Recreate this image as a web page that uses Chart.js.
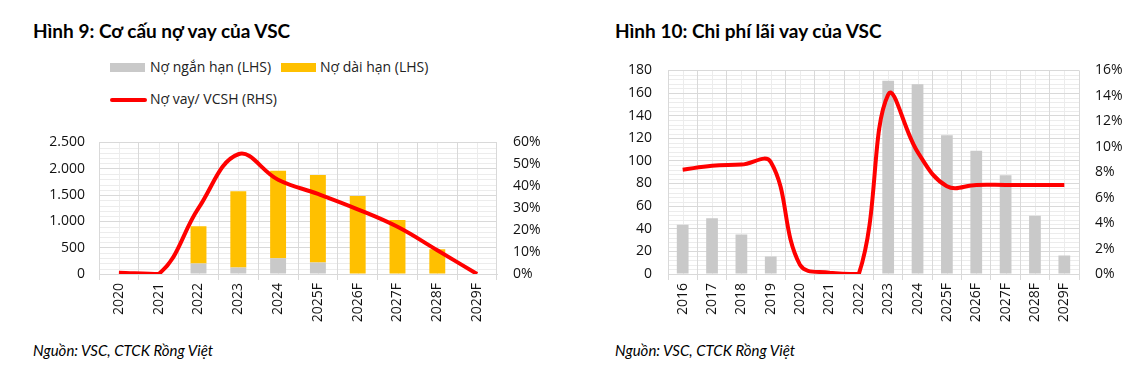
<!DOCTYPE html>
<html>
<head>
<meta charset="utf-8">
<script src="https://cdn.jsdelivr.net/npm/chart.js@4/dist/chart.umd.min.js"></script>
<style>
  body { margin: 0; width: 1140px; height: 376px; background: #fff; position: relative; overflow: hidden; font-family: 'Open Sans', sans-serif; }
  .title { position: absolute; font-family: Lato, sans-serif; font-weight: 700; font-size: 19px; color: #000; line-height: 22px; }
  .source { position: absolute; font-family: Lato, sans-serif; font-style: italic; font-size: 15px; color: #000; }
  .box { position: absolute; }
  .leg { position: absolute; font-size: 14px; color: #222; line-height: 18px; }
  .sw { position: absolute; }
</style>
</head>
<body>
<div class="title" style="left:33px; top:20px;">Hình 9: Cơ cấu nợ vay của VSC</div>
<div class="title" style="left:615px; top:20px;">Hình 10: Chi phí lãi vay của VSC</div>

<div class="sw" style="left:110px; top:63px; width:35px; height:9px; background:#c9c9c9;"></div>
<div class="leg" style="left:150px; top:58px;">Nợ ngắn hạn (LHS)</div>
<div class="sw" style="left:281px; top:63px; width:35px; height:9px; background:#ffc000;"></div>
<div class="leg" style="left:320px; top:58px;">Nợ dài hạn (LHS)</div>
<div class="sw" style="left:110px; top:98px; width:37px; height:4px; background:#ff0000; border-radius:2px;"></div>
<div class="leg" style="left:150px; top:90px;">Nợ vay/ VCSH (RHS)</div>

<div class="box" style="left:0px; top:118px; width:560px; height:212px;"><canvas id="c9"></canvas></div>
<div class="box" style="left:580px; top:46px; width:560px; height:284px;"><canvas id="c10"></canvas></div>

<div class="source" style="left:33px; top:341px;">Nguồn: VSC, CTCK Rồng Việt</div>
<div class="source" style="left:615px; top:341px;">Nguồn: VSC, CTCK Rồng Việt</div>

<script>
// Hình 9
const years9 = ['2020', '2021', '2022', '2023', '2024', '2025F', '2026F', '2027F', '2028F', '2029F'];
const shortDebt = [0, 0, 200, 125, 300, 220, 0, 0, 0, 0];
const longDebt = [0, 0, 705, 1445, 1660, 1660, 1480, 1025, 470, 0];
const debtToEquity = [0.6, 0, 30, 54.6, 43, 36.5, 29.5, 21.5, 10.8, 0];

// Hình 10
const years10 = ['2016', '2017', '2018', '2019', '2020', '2021', '2022', '2023', '2024', '2025F', '2026F', '2027F', '2028F', '2029F'];
const interestCost = [43.5, 49.3, 35, 15.4, 0, 0, 0, 170.8, 167.7, 122.6, 109, 87.2, 51.6, 16.3];
const interestRate = [8.2, 8.5, 8.6, 8.8, 0.7, 0.1, 0, 14.1, 9.6, 6.9, 7.0, 7.0, 7.0, 7.0];

Chart.defaults.font.family = "'Open Sans', sans-serif";
Chart.defaults.font.size = 14;
Chart.defaults.color = '#222';

const GRID = '#d9d9d9';
const MINOR = '#ececec';

// light in-between lines like the Excel minor gridlines
const minorGrid = {
    id: 'minorGrid',
    beforeDraw(chart, args, opts) {
        const { ctx, chartArea: a, scales: { x, y } } = chart;
        ctx.save();
        ctx.strokeStyle = MINOR;
        ctx.lineWidth = 1;
        ctx.beginPath();
        for (let v = y.min + opts.step; v < y.max; v += opts.step) {
            if (Math.abs(v % opts.major) < 1e-6) continue;
            const py = Math.round(y.getPixelForValue(v)) + 0.5;
            ctx.moveTo(a.left, py);
            ctx.lineTo(a.right, py);
        }
        for (let i = 0; i < x.ticks.length; i++) {
            const px = Math.round(x.getPixelForValue(i)) + 0.5;
            ctx.moveTo(px, a.top);
            ctx.lineTo(px, a.bottom);
        }
        ctx.stroke();
        ctx.restore();
    }
};

const dotThousands = v => String(v).replace(/\B(?=(\d{3})+(?!\d))/g, '.');

function makeScales(cfg) {
    return {
        x: {
            stacked: true,
            offset: true,
            grid: { color: GRID, offset: true, tickLength: 6, drawTicks: true },
            border: { color: GRID },
            ticks: { minRotation: 90, maxRotation: 90, autoSkip: false, padding: 3, color: '#111' },
            afterFit: s => { s.height = cfg.xh; }
        },
        y: {
            stacked: true,
            min: 0, max: cfg.yMax,
            grid: { color: GRID, drawTicks: false },
            border: { display: false },
            ticks: { stepSize: cfg.yStep, padding: cfg.yPad, color: '#111', callback: dotThousands },
            afterFit: s => { s.width = cfg.yw; }
        },
        y1: {
            position: 'right',
            min: 0, max: cfg.rMax,
            grid: { drawOnChartArea: false, drawTicks: false },
            border: { display: false },
            ticks: { stepSize: cfg.rStep, padding: 16, color: '#111', callback: v => v + '%' },
            afterFit: s => { s.width = cfg.rw; }
        }
    };
}

const common = {
    responsive: true,
    maintainAspectRatio: false,
    animation: false,
    plugins: { legend: { display: false }, tooltip: { enabled: false } }
};

new Chart(document.getElementById('c9'), {
    type: 'bar',
    data: {
        labels: years9,
        datasets: [
            { type: 'line', label: 'Nợ vay/ VCSH (RHS)', data: debtToEquity, yAxisID: 'y1',
              borderColor: '#ff0000', borderWidth: 4, pointRadius: 0, tension: 0.4, order: 0 },
            { label: 'Nợ ngắn hạn (LHS)', data: shortDebt, backgroundColor: '#c9c9c9',
              barPercentage: 0.4, categoryPercentage: 1, order: 1 },
            { label: 'Nợ dài hạn (LHS)', data: longDebt, backgroundColor: '#ffc000',
              barPercentage: 0.4, categoryPercentage: 1, order: 1 }
        ]
    },
    options: {
        ...common,
        layout: { padding: { top: 16, left: 0, right: 0, bottom: 0 } },
        scales: makeScales({ yMax: 2500, yStep: 500, rMax: 60, rStep: 10, yw: 99, rw: 63, xh: 56, yPad: 14 }),
        plugins: { ...common.plugins, minorGrid: { step: 100, major: 500 } }
    },
    plugins: [minorGrid]
});

new Chart(document.getElementById('c10'), {
    type: 'bar',
    data: {
        labels: years10,
        datasets: [
            { type: 'line', label: 'Lãi suất', data: interestRate, yAxisID: 'y1',
              borderColor: '#ff0000', borderWidth: 4, pointRadius: 0, tension: 0.4, order: 0 },
            { label: 'Chi phí lãi vay', data: interestCost, backgroundColor: '#c9c9c9',
              barPercentage: 0.4, categoryPercentage: 1, order: 1 }
        ]
    },
    options: {
        ...common,
        layout: { padding: { top: 16, left: 0, right: 0, bottom: 0 } },
        scales: makeScales({ yMax: 180, yStep: 20, rMax: 16, rStep: 2, yw: 88, rw: 61, xh: 56, yPad: 16 }),
        plugins: { ...common.plugins, minorGrid: { step: 4, major: 20 } }
    },
    plugins: [minorGrid]
});
</script>
</body>
</html>
